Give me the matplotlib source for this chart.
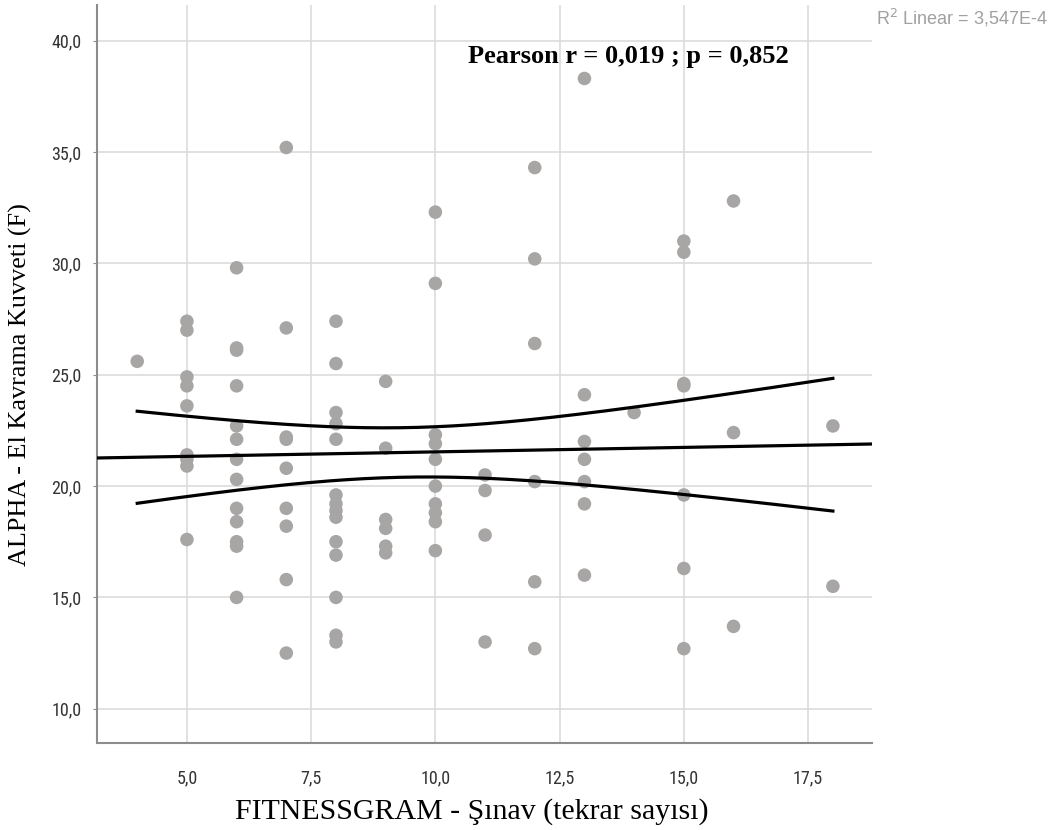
import numpy as np
import matplotlib
matplotlib.use("Agg")
import matplotlib.pyplot as plt
from matplotlib import font_manager
from matplotlib.ticker import FuncFormatter

# Şınav repetitions (x) and grip strength (y)
sinav = ([4] + [5]*9 + [6]*13 + [7]*9 + [8]*14 + [9]*6 + [10]*10 + [11]*4
         + [12]*6 + [13]*7 + [14] + [15]*7 + [16]*3 + [18]*2)
kavrama = [25.6,
           27.4, 27.0, 24.9, 24.5, 23.6, 21.4, 21.2, 20.9, 17.6,
           29.8, 26.2, 26.1, 24.5, 22.7, 22.1, 21.2, 20.3, 19.0, 18.4, 17.5, 17.3, 15.0,
           35.2, 27.1, 22.2, 22.1, 20.8, 19.0, 18.2, 15.8, 12.5,
           27.4, 25.5, 23.3, 22.8, 22.1, 19.6, 19.2, 18.9, 18.6, 17.5, 16.9, 15.0, 13.3, 13.0,
           24.7, 21.7, 18.5, 18.1, 17.3, 17.0,
           32.3, 29.1, 22.3, 21.9, 21.2, 20.0, 19.2, 18.8, 18.4, 17.1,
           20.5, 19.8, 17.8, 13.0,
           34.3, 30.2, 26.4, 20.2, 15.7, 12.7,
           38.3, 24.1, 22.0, 21.2, 20.2, 19.2, 16.0,
           23.3,
           31.0, 30.5, 24.6, 24.5, 19.6, 16.3, 12.7,
           32.8, 22.4, 13.7,
           22.7, 15.5]

x_ticks = [5.0, 7.5, 10.0, 12.5, 15.0, 17.5]
y_ticks = [10.0, 15.0, 20.0, 25.0, 30.0, 35.0, 40.0]
x_lims = [3.19, 18.78]
y_lims = [8.47, 41.6]

stat_text = "Pearson r = 0,019 ; p = 0,852"
r2_text = "R$^2$ Linear = 3,547E-4"
x_label = "FITNESSGRAM - Şınav (tekrar sayısı)"
y_label = "ALPHA - El Kavrama Kuvveti (F)"

x = np.array(sinav, dtype=float)
y = np.array(kavrama, dtype=float)

# simple linear fit + 95% CI of the mean
n = len(x)
b1, b0 = np.polyfit(x, y, 1)
resid = y - (b0 + b1*x)
s = np.sqrt(np.sum(resid**2)/(n-2))
sxx = np.sum((x - x.mean())**2)
t_crit = 1.986  # t(0.975, n-2) for n around 92

xf = np.linspace(x_lims[0], x_lims[1], 200)
xc = np.linspace(x.min(), x.max(), 200)
yc = b0 + b1*xc
half = t_crit*s*np.sqrt(1.0/n + (xc - x.mean())**2/sxx)

comma = FuncFormatter(lambda v, p: ("%.1f" % v).replace(".", ","))

# narrow font for the ticks if one is around
names = set(f.name for f in font_manager.fontManager.ttflist)
tick_font = 'DejaVu Sans'
for cand in ['Liberation Sans Narrow', 'Roboto Condensed', 'Open Sans Condensed', 'DejaVu Sans Condensed']:
    if cand in names:
        tick_font = cand
        break

fg = plt.figure(figsize=(10.54, 8.30), dpi=100)
ax = fg.add_axes([0.092, 0.105, 0.735, 0.889])

ax.grid(True, color='#dcdcdc', linewidth=1.2)
ax.set_axisbelow(True)
ax.scatter(x, y, s=95, color='#a8a5a5', edgecolors='none', zorder=2)
ax.plot(xf, b0 + b1*xf, color='black', linewidth=2.3, zorder=3)
ax.plot(xc, yc + half, color='black', linewidth=2.3, zorder=3)
ax.plot(xc, yc - half, color='black', linewidth=2.3, zorder=3)

ax.set_xlim(x_lims)
ax.set_ylim(y_lims)
ax.set_xticks(x_ticks)
ax.set_yticks(y_ticks)
ax.xaxis.set_major_formatter(comma)
ax.yaxis.set_major_formatter(comma)

for side in ['top', 'right']:
    ax.spines[side].set_visible(False)
for side in ['left', 'bottom']:
    ax.spines[side].set_color('#8c8c8c')
    ax.spines[side].set_linewidth(1.5)

ax.tick_params(axis='x', length=0, pad=19, labelsize=13, labelcolor='#333333')
ax.tick_params(axis='y', length=3, color='#8c8c8c', pad=8, labelsize=13, labelcolor='#333333')
for lb in ax.get_xticklabels() + ax.get_yticklabels():
    lb.set_family(tick_font)
    lb.set_stretch('condensed')

ax.set_xlabel(x_label, family='Liberation Serif', fontsize=21.5)
ax.set_ylabel(y_label, family='Liberation Serif', fontsize=18.8)
ax.xaxis.set_label_coords(0.484, -0.075)
ax.yaxis.set_label_coords(-0.084, 0.485)

fg.text(628/1054, 1 - 57/830, stat_text,
        family='Liberation Serif', fontweight='bold', fontsize=19,
        ha='center', va='center')
fg.text(1 - 6/1054, 1 - 18/830, r2_text, color='#a0a0a0', fontsize=13,
        family=['Liberation Sans', 'DejaVu Sans'], ha='right', va='center')

fg.savefig('out.png', dpi=100)
